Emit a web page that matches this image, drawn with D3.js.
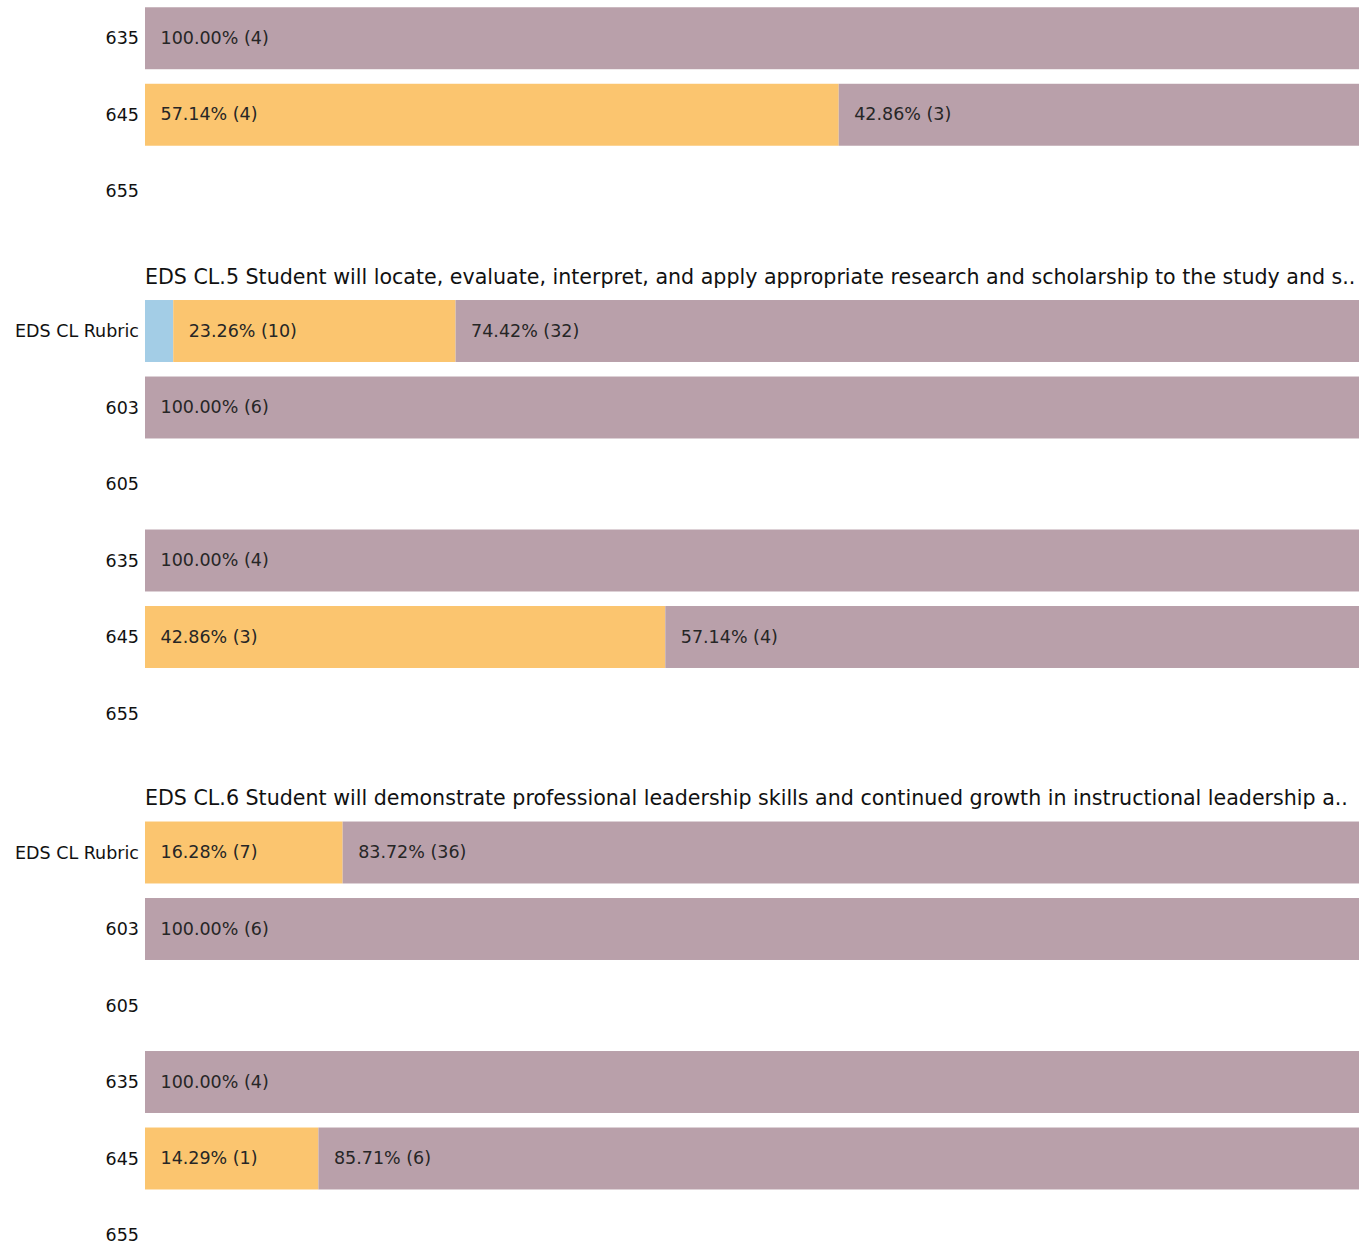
<!DOCTYPE html>
<html>
<head>
<meta charset="utf-8">
<script src="https://cdn.jsdelivr.net/npm/d3@7"></script>
<style>
  html, body { margin: 0; padding: 0; background: #fff; overflow: hidden; }
  svg { display: block; font-family: "DejaVu Sans", sans-serif; }
</style>
</head>
<body>
<svg id="chart"></svg>
<script>
// rating levels, in stacking order
const levels = ['Level 1', 'Level 2', 'Level 3']
const levelColors = ['#a3cde6', '#fbc56f', '#b9a0aa']

// row labels (course / rubric)
const rowLabels = ['EDS CL Rubric', '603', '605', '635', '645', '655']

// section titles (first section's title is scrolled out of view)
const titles = [
    null,
    'EDS CL.5 Student will locate, evaluate, interpret, and apply appropriate research and scholarship to the study and s..',
    'EDS CL.6 Student will demonstrate professional leadership skills and continued growth in instructional leadership a..'
]

// counts per row: [level 1, level 2, level 3]; empty = no responses
const cl4Rows = ['635', '645', '655']
const cl4Counts = [[0, 0, 4], [0, 4, 3], []]

const cl5Counts = [[1, 10, 32], [0, 0, 6], [], [0, 0, 4], [0, 3, 4], []]
const cl6Counts = [[0, 7, 36], [0, 0, 6], [], [0, 0, 4], [0, 1, 6], []]

const width = 1359
const height = 1247
const left = 145
const step = 76.5
const sectionTops = [0, 292.75, 814.25]

const sections = [
    { title: titles[0], rows: cl4Rows, counts: cl4Counts },
    { title: titles[1], rows: rowLabels, counts: cl5Counts },
    { title: titles[2], rows: rowLabels, counts: cl6Counts }
]

const svg = d3.select('#chart')
    .attr('width', width)
    .attr('height', height)

const x = d3.scaleLinear().domain([0, 100]).range([left, width])
const color = d3.scaleOrdinal().domain(levels).range(levelColors)

sections.forEach((sec, si) => {
    const top = sectionTops[si]
    const y = d3.scaleBand()
        .domain(sec.rows)
        .range([top, top + sec.rows.length * step])
        .paddingInner(0.19)
        .paddingOuter(0.095)

    const g = svg.append('g')

    if (sec.title) {
        g.append('text')
            .attr('x', left)
            .attr('y', top - 16)
            .attr('dy', '0.35em')
            .attr('font-size', 20.6)
            .attr('fill', '#111')
            .text(sec.title)
    }

    // y axis labels
    g.selectAll('text.row')
        .data(sec.rows)
        .join('text')
        .attr('class', 'row')
        .attr('x', left - 6)
        .attr('y', (d) => y(d) + y.bandwidth() / 2)
        .attr('dy', '0.35em')
        .attr('text-anchor', 'end')
        .attr('font-size', 17.5)
        .attr('fill', '#111')
        .text((d) => d)

    // stack each row into percent segments
    const segs = []
    sec.rows.forEach((r, i) => {
        const c = sec.counts[i]
        const total = d3.sum(c)
        if (!total) return
        let acc = 0
        c.forEach((n, li) => {
            const pct = n / total * 100
            if (n > 0) segs.push({ row: r, level: levels[li], n, pct, x0: acc, x1: acc + pct })
            acc += pct
        })
    })

    g.selectAll('rect')
        .data(segs)
        .join('rect')
        .attr('x', (d) => x(d.x0))
        .attr('y', (d) => y(d.row))
        .attr('width', (d) => x(d.x1) - x(d.x0))
        .attr('height', y.bandwidth())
        .attr('fill', (d) => color(d.level))

    g.selectAll('text.val')
        .data(segs.filter((d) => d.pct >= 5))
        .join('text')
        .attr('class', 'val')
        .attr('x', (d) => x(d.x0) + 15.5)
        .attr('y', (d) => y(d.row) + y.bandwidth() / 2)
        .attr('dy', '0.32em')
        .attr('font-size', 17.5)
        .attr('fill', '#262626')
        .text((d) => `${d.pct.toFixed(2)}% (${d.n})`)
})
</script>
</body>
</html>
